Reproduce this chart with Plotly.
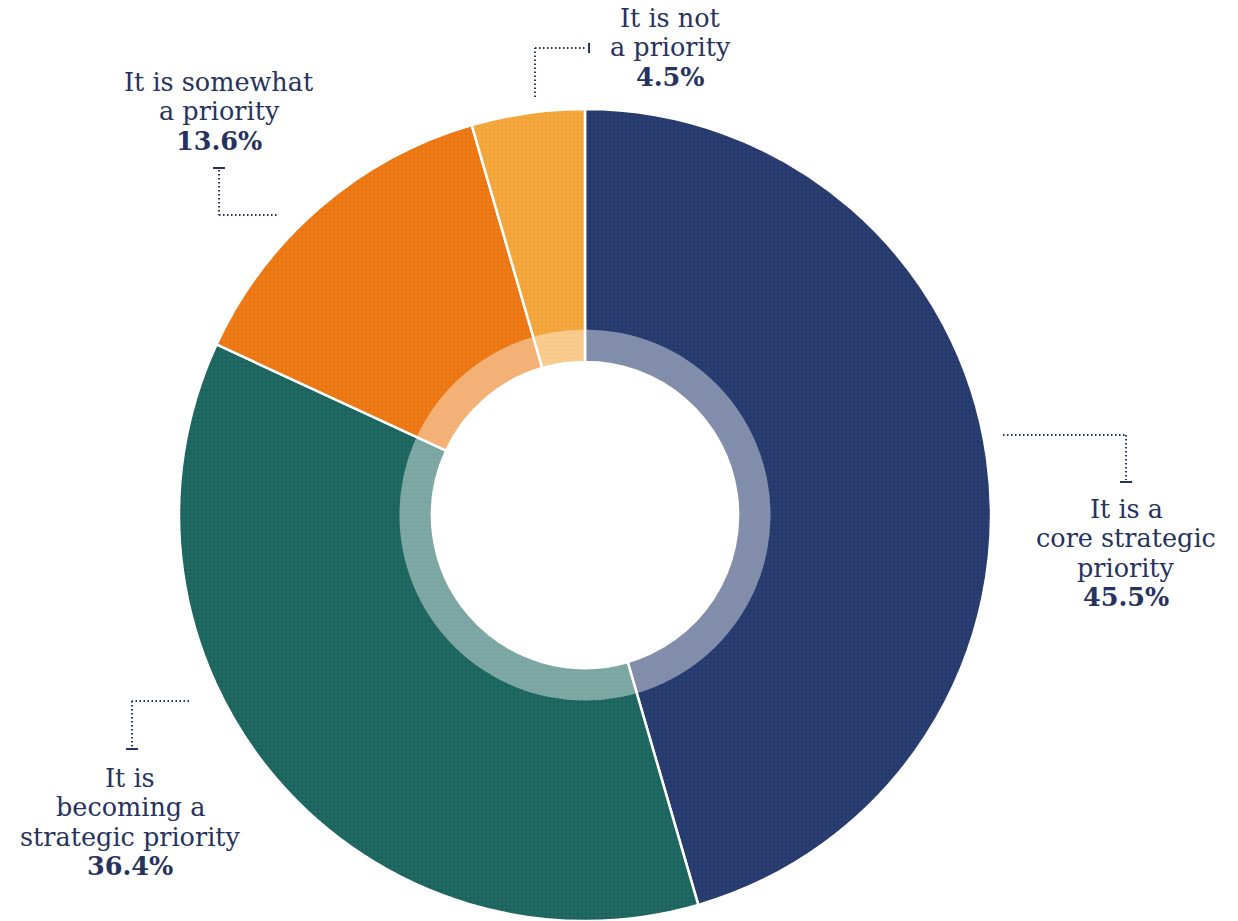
import plotly.graph_objects as go

# Survey answers and their shares (%)
labels = [
    "It is a<br>core strategic<br>priority",
    "It is<br>becoming a<br>strategic priority",
    "It is somewhat<br>a priority",
    "It is not<br>a priority",
]
values = [45.5, 36.4, 13.6, 4.5]
colors = ["#293e71", "#1f6a63", "#ee7b15", "#f5a83d"]
grain = ["#1a2a55", "#134a45", "#d9620a", "#e8932c"]

W, H = 1238, 921
INK = "#26335f"
FONT = "DejaVu Serif"


def px(x):
    return x / W


def py(y):
    return 1 - y / H


fig = go.Figure()

# Main donut with a fine grain overlay
fig.add_trace(go.Pie(
    labels=labels,
    values=values,
    sort=False,
    direction="clockwise",
    rotation=0,
    hole=0.377,
    marker=dict(
        colors=colors,
        line=dict(color="white", width=2.5),
        pattern=dict(shape=".", fgcolor=grain, fgopacity=0.35,
                     size=4, solidity=0.3, fillmode="overlay"),
    ),
    textinfo="none",
    hoverinfo="skip",
    showlegend=False,
    domain=dict(x=[px(175), px(995)], y=[0, 2 * 406 / H]),
))

# Translucent inner ring laid over the slices
fig.add_trace(go.Pie(
    values=[1],
    hole=0.824,
    marker=dict(colors=["rgba(255,255,255,0.42)"], line=dict(width=0)),
    textinfo="none",
    hoverinfo="skip",
    showlegend=False,
    sort=False,
    domain=dict(x=[px(399.5), px(770.5)], y=[(406 - 185.5) / H, (406 + 185.5) / H]),
))

# Label blocks: (center x, first-line y) in pixels, one annotation per line
label_pos = [(1126, 509), (130, 778), (219, 82), (670, 18)]
line_h = 29.3
for lab, val, (cx, ty) in zip(labels, values, label_pos):
    lines = lab.split("<br>") + [f"<b>{val:.1f}%</b>"]
    for i, line in enumerate(lines):
        fig.add_annotation(
            x=px(cx), y=py(ty + i * line_h), xref="paper", yref="paper",
            text=line, showarrow=False, xanchor="center", yanchor="middle",
            font=dict(family=FONT, size=25.5, color=INK),
        )

# Dotted leader lines
dot = dict(color=INK, width=2, dash="1.5px,2.5px")
solid = dict(color=INK, width=2)
leaders = [
    # 45.5%
    [((1003, 435), (1126, 435)), ((1126, 435), (1126, 480))],
    # 36.4%
    [((189, 701), (132, 701)), ((132, 701), (132, 747))],
    # 13.6%
    [((219, 170), (219, 215)), ((219, 215), (277, 215))],
    # 4.5%
    [((535, 97), (535, 48)), ((535, 48), (586, 48))],
]
for segs in leaders:
    for (x0, y0), (x1, y1) in segs:
        fig.add_shape(type="line", xref="paper", yref="paper",
                      x0=px(x0), y0=py(y0), x1=px(x1), y1=py(y1), line=dot)

ticks = [
    ((1120, 482), (1132, 482)),
    ((126, 749), (138, 749)),
    ((213, 168), (225, 168)),
    ((589, 43), (589, 53)),
]
for (x0, y0), (x1, y1) in ticks:
    fig.add_shape(type="line", xref="paper", yref="paper",
                  x0=px(x0), y0=py(y0), x1=px(x1), y1=py(y1), line=solid)

fig.update_layout(
    width=W, height=H,
    margin=dict(l=0, r=0, t=0, b=0),
    paper_bgcolor="white",
    plot_bgcolor="white",
)

fig.write_html("out.html")
